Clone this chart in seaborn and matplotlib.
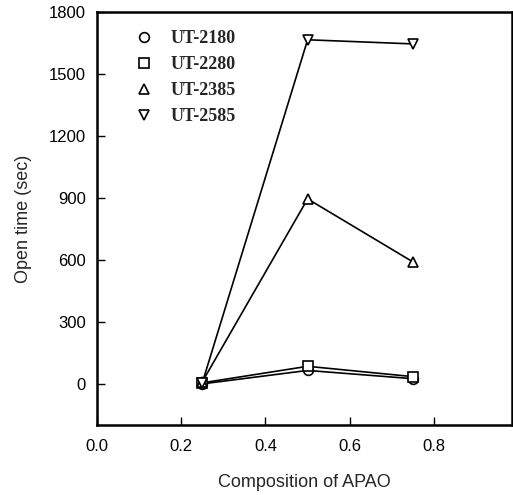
import matplotlib
matplotlib.use("Agg")
import matplotlib.pyplot as plt
import seaborn as sns
import pandas as pd
from matplotlib.lines import Line2D

composition = [0.25, 0.5, 0.75]
ut2180 = [0, 65, 25]
ut2280 = [5, 85, 35]
ut2385 = [10, 895, 590]
ut2585 = [5, 1665, 1645]
series_names = ["UT-2180", "UT-2280", "UT-2385", "UT-2585"]
markers = ["o", "s", "^", "v"]

rows = []
for name, vals in zip(series_names, [ut2180, ut2280, ut2385, ut2585]):
    for x, y in zip(composition, vals):
        rows.append({"Composition of APAO": x, "Open time (sec)": y, "Resin": name})
df = pd.DataFrame(rows)

sns.set_style("ticks")
plt.rcParams["font.family"] = ["Liberation Sans", "DejaVu Sans"]

fig = plt.figure(figsize=(5.13, 4.95), dpi=100)
ax = fig.add_axes([0.189, 0.141, 0.809, 0.835])

sns.lineplot(data=df, x="Composition of APAO", y="Open time (sec)", style="Resin",
             hue="Resin", palette=["black"] * 4, markers=dict(zip(series_names, markers)),
             dashes=False, markersize=7, markerfacecolor="white", markeredgecolor="black",
             markeredgewidth=1.2, linewidth=1.2, legend=False, ax=ax)

ax.set_xlim(0, 0.985)
ax.set_ylim(-200, 1800)
ax.set_xticks([0.0, 0.2, 0.4, 0.6, 0.8])
ax.set_xticklabels(["0.0", "0.2", "0.4", "0.6", "0.8"])
ax.set_yticks([0, 300, 600, 900, 1200, 1500, 1800])
ax.tick_params(direction="in", length=6, width=1, labelsize=12, colors="black")
ax.tick_params(axis="x", pad=10)
ax.tick_params(axis="y", pad=8)
for s in ax.spines.values():
    s.set_linewidth(1.8)
    s.set_color("black")
ax.set_xlabel("Composition of APAO", fontsize=13, labelpad=14)
ax.set_ylabel("Open time (sec)", fontsize=13, labelpad=12)

handles = [Line2D([], [], linestyle="none", marker=m, markersize=7, markerfacecolor="white",
                  markeredgecolor="black", markeredgewidth=1.2) for m in markers]
leg = ax.legend(handles, series_names, loc="upper left", bbox_to_anchor=(0.03, 0.995),
                frameon=False, handletextpad=0.5, labelspacing=0.5,
                prop={"family": "Liberation Serif", "weight": "bold", "size": 13})

fig.savefig("out.png", dpi=100)
